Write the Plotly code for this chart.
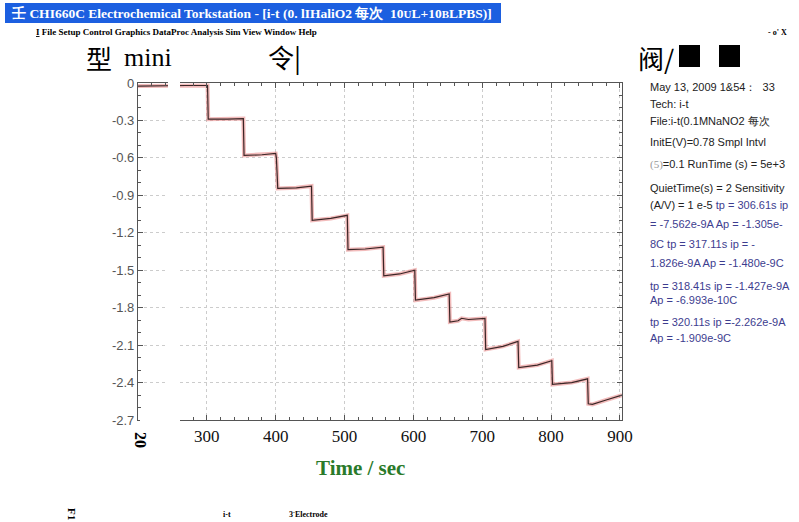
import plotly.graph_objects as go

# ---- data ----
time_s = [200, 240, 270, 301, 302, 330, 353, 354, 380, 400, 401, 402, 403, 430, 452, 453,
          480, 504, 505, 530, 556, 557, 580, 602, 603, 630, 652, 653, 665, 670, 680, 704,
          705, 730, 752, 753, 780, 801, 802, 830, 853, 854, 860, 880, 903]
current = [-0.025, -0.02, -0.02, -0.02, -0.29, -0.29, -0.285, -0.58, -0.575, -0.565, -0.60,
           -0.72, -0.845, -0.84, -0.826, -1.10, -1.085, -1.06, -1.335, -1.33, -1.315, -1.545,
           -1.53, -1.50, -1.74, -1.72, -1.69, -1.915, -1.905, -1.885, -1.895, -1.885, -2.135,
           -2.11, -2.07, -2.28, -2.26, -2.225, -2.415, -2.40, -2.37, -2.57, -2.575, -2.54, -2.50]

x_ticks = [300, 400, 500, 600, 700, 800, 900]
x_tick_labels = ["300", "400", "500", "600", "700", "800", "900"]
y_ticks = [0, -0.3, -0.6, -0.9, -1.2, -1.5, -1.8, -2.1, -2.4, -2.7]
y_tick_labels = ["0", "-0.3", "-0.6", "-0.9", "-1.2", "-1.5", "-1.8", "-2.1", "-2.4", "-2.7"]

W, H = 799, 522
L, R, T, B = 138, 622, 83, 420


def px(x):
    return (x - L) / (R - L)


def py(y):
    return (B - y) / (B - T)


fig = go.Figure()
fig.add_trace(go.Scatter(x=time_s, y=current, mode="lines",
                         line=dict(color="rgba(230,120,120,0.5)", width=4),
                         hoverinfo="skip", showlegend=False))
fig.add_trace(go.Scatter(x=time_s, y=current, mode="lines",
                         line=dict(color="#3a2626", width=1.2),
                         showlegend=False))

axis_common = dict(showline=True, linecolor="#555", linewidth=1.2, mirror="ticks",
                   ticks="inside", ticklen=5, tickcolor="#555",
                   showgrid=True, gridcolor="#cccccc", griddash="dot", gridwidth=1,
                   zeroline=False)

fig.update_xaxes(range=[200, 903], tickvals=x_ticks, ticktext=x_tick_labels,
                 tickfont=dict(family="Liberation Serif", size=17, color="#111"),
                 minor=dict(dtick=20, ticks="inside", ticklen=3, tickcolor="#555", showgrid=False),
                 **axis_common)
fig.update_yaxes(range=[-2.7, 0], tickvals=y_ticks, ticktext=y_tick_labels,
                 tickfont=dict(family="Liberation Sans", size=13, color="#555"),
                 minor=dict(dtick=0.1, ticks="inside", ticklen=3, tickcolor="#555", showgrid=False),
                 **axis_common)

shapes = []
# title bar
shapes.append(dict(type="rect", xref="paper", yref="paper", x0=px(5), x1=px(501), y0=py(3), y1=py(23),
                   fillcolor="#1c5fe0", line=dict(width=0), layer="above"))
# white gap strip across plot
shapes.append(dict(type="rect", xref="paper", yref="paper", x0=px(168), x1=px(180), y0=py(424), y1=py(76),
                   fillcolor="white", line=dict(width=0), layer="above"))
shapes.append(dict(type="rect", xref="paper", yref="paper", x0=px(140), x1=px(180), y0=py(426), y1=py(417),
                   fillcolor="white", line=dict(width=0), layer="above"))
# toolbar black squares
shapes.append(dict(type="rect", xref="paper", yref="paper", x0=px(679), x1=px(700), y0=py(67), y1=py(45),
                   fillcolor="black", line=dict(width=0), layer="above"))
shapes.append(dict(type="rect", xref="paper", yref="paper", x0=px(719), x1=px(740), y0=py(67), y1=py(45),
                   fillcolor="black", line=dict(width=0), layer="above"))

ann = []


def txt(x, y, s, size, color="black", family="Liberation Serif", anchor="left", angle=0):
    ann.append(dict(x=px(x), y=py(y), xref="paper", yref="paper", text=s, showarrow=False,
                    xanchor=anchor, yanchor="middle", textangle=angle,
                    font=dict(family=family, size=size, color=color)))


txt(9, 13, "<b>壬 CHI660C Electrochemical Torkstation - [i-t (0. lIHaliO2 每次  10<span style='font-size:11px'>U</span>L+10<span style='font-size:11px'>B</span>LPBS)]</b>", 13.5, "white")
txt(34, 32, "<b><u>I</u> File Setup Control Graphics DataProc Analysis Sim View Window Help</b>", 9)
txt(766, 32, "<b>- o' X</b>", 8)
txt(84, 57, "型", 26, family="Noto Sans CJK SC")
txt(122, 57, "mini", 26)
txt(266, 57, "令|", 26, family="Noto Sans CJK SC")
txt(636, 57, "阀/", 26, family="Noto Sans CJK SC")

blue = "#3d3d8f"
sans = "Liberation Sans"
txt(648, 87, "May 13, 2009 1&amp;54：  33", 11, "#222", sans)
txt(648, 104, "Tech: i-t", 11, "#222", sans)
txt(648, 121, "File:i-t(0.1MNaNO2 每次", 11, "#222", sans)
txt(648, 142, "InitE(V)=0.78 Smpl Intvl", 11, "#222", sans)
txt(648, 164, "<span style='color:#999;font-family:Liberation Serif'>(5)</span>=0.1 RunTime (s) = 5e+3", 11, "#222", sans)
txt(648, 188, "QuietTime(s) = 2 Sensitivity", 11, "#222", sans)
txt(648, 205, f"(A/V) = 1 e-5 <span style='color:{blue}'>tp = 306.61s ip</span>", 11, "#222", sans)
txt(648, 224, "= -7.562e-9A Ap = -1.305e-", 11, blue, sans)
txt(648, 244, "8C tp = 317.11s ip = -", 11, blue, sans)
txt(648, 263, "1.826e-9A Ap = -1.480e-9C", 11, blue, sans)
txt(648, 286, "tp = 318.41s ip = -1.427e-9A", 11, blue, sans)
txt(648, 300, "Ap = -6.993e-10C", 11, blue, sans)
txt(648, 322, "tp = 320.11s ip =-2.262e-9A", 11, blue, sans)
txt(648, 338, "Ap = -1.909e-9C", 11, blue, sans)

txt(141, 440, "<b>20</b>", 16, anchor="center", angle=90)
txt(360, 468, "<b>Time / sec</b>", 21, "#2a7a2a", anchor="center")
txt(72, 514, "<b>F1</b>", 11, anchor="center", angle=90)
txt(221, 514, "<b>i-t</b>", 8)
txt(287, 514, "<b>3<sup>-</sup>Electrode</b>", 8)

fig.update_layout(width=W, height=H, autosize=False,
                  margin=dict(l=L, r=W - R, t=T, b=H - B, pad=0),
                  paper_bgcolor="white", plot_bgcolor="white",
                  shapes=shapes, annotations=ann, showlegend=False)

fig.write_html("out.html", config={"displayModeBar": False},
               post_script="document.body.style.margin='0';document.body.style.padding='0';document.documentElement.style.overflow='hidden';")
